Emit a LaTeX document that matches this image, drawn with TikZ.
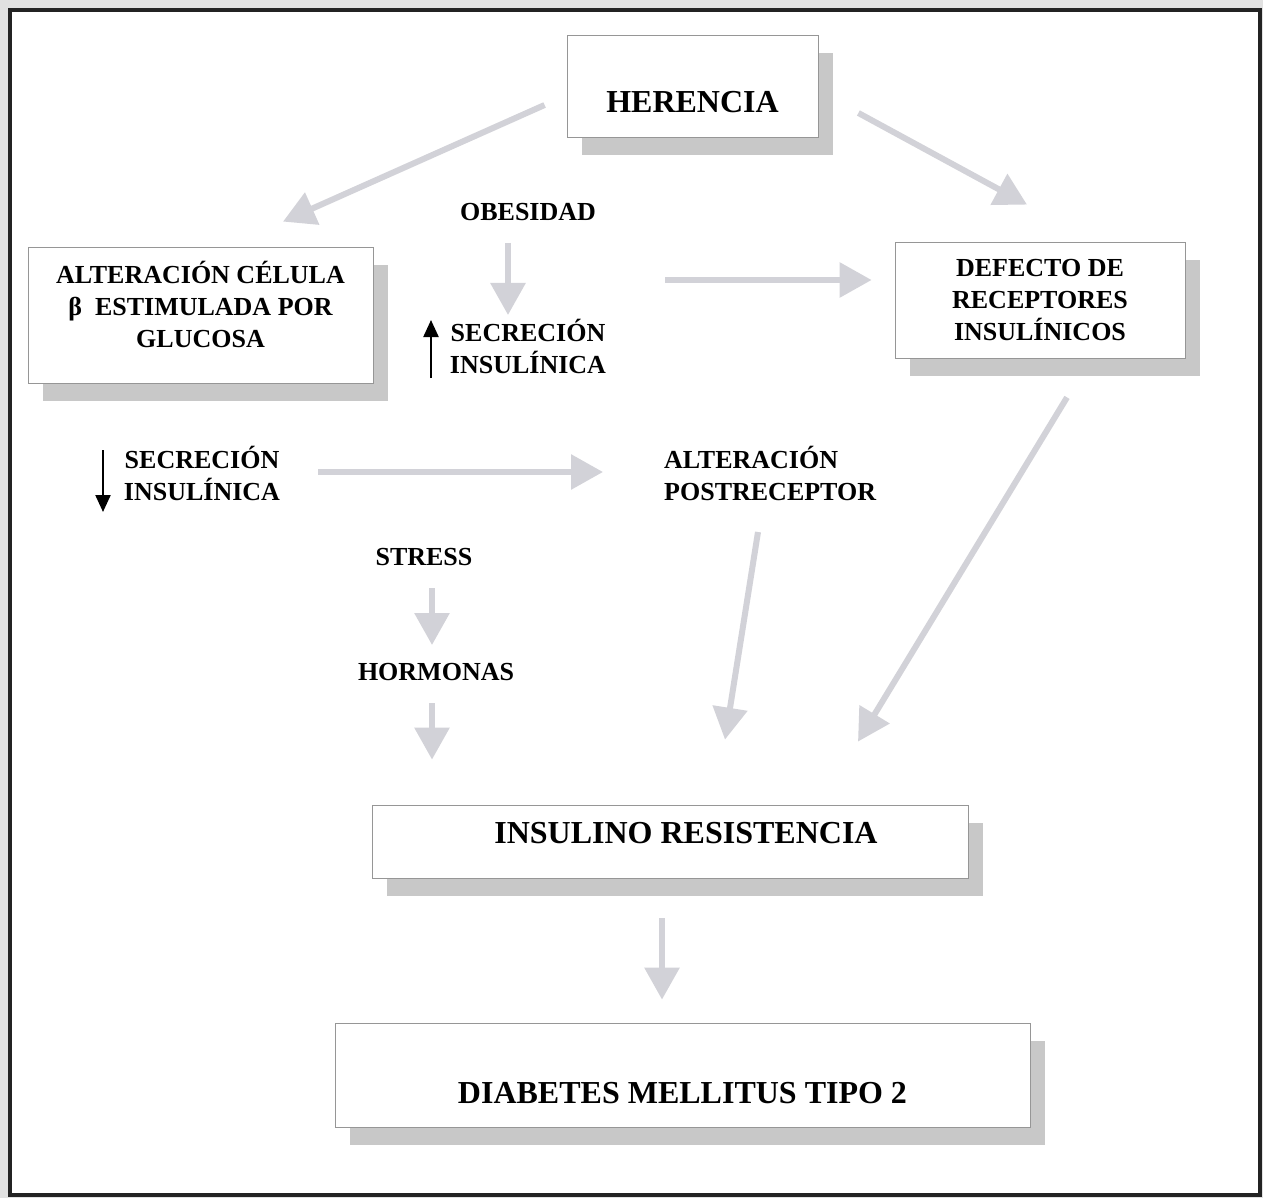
\documentclass[tikz,border=0pt]{standalone}
\usepackage{fontspec}
\setmainfont{Liberation Serif}
\usepackage{xcolor}
\definecolor{boxline}{RGB}{150,150,150}
\definecolor{shadowgray}{RGB}{200,200,200}
\definecolor{arrowgray}{RGB}{210,210,216}
\definecolor{framegray}{RGB}{35,35,35}
\definecolor{margingray}{RGB}{225,225,225}
\usetikzlibrary{arrows.meta, calc, shadows}

\newcommand{\bigtxt}{\fontsize{32}{38}\selectfont\bfseries}
\newcommand{\smalltxt}{\fontsize{26}{32}\selectfont\bfseries}

\tikzset{
  box/.style={draw=boxline, line width=0.8pt, fill=white, align=center, font=\smalltxt,
    drop shadow={shadow xshift=15pt, shadow yshift=-18pt, fill=shadowgray, opacity=1}},
  lbl/.style={inner sep=0pt, align=center, font=\smalltxt},
  grayarr/.style={draw=arrowgray, line width=6pt, -{Triangle[width=34pt, length=32pt]}},
  blackarr/.style={draw=black, line width=2.2pt, -{Triangle[width=15pt, length=17pt]}}
}

\begin{document}
\begin{tikzpicture}[x=1pt, y=-1pt]
  \useasboundingbox (0,0) rectangle (1263,1198);
  % Page and frame
  \fill[margingray] (0,0) rectangle (1263,1198);
  \fill[white] (10,10) rectangle (1260,1195);
  \draw[framegray, line width=4pt] (10,10) rectangle (1260,1195);

  % Boxes
  \node[box, minimum width=251, minimum height=102, font=\bigtxt, text height=53pt, text depth=0pt] (herencia) at (692.5,86) {HERENCIA};
  \node[box, minimum width=345, minimum height=136, text depth=22pt] (alter) at (200.5,315) {ALTERACIÓN CÉLULA\\β\enspace ESTIMULADA POR\\GLUCOSA};
  \node[box, minimum width=290, minimum height=116] (defecto) at (1040,300) {DEFECTO DE\\RECEPTORES\\INSULÍNICOS};
  \node[box, minimum width=596, minimum height=73, font=\bigtxt, text height=21pt, text depth=17pt] (insulino) at (670,841.5) {\hspace*{32pt}INSULINO RESISTENCIA};
  \node[box, minimum width=695, minimum height=104, font=\bigtxt, text height=57pt, text depth=0pt] (diabetes) at (682.5,1075) {DIABETES MELLITUS TIPO 2};

  % Free labels
  \node[lbl] (obesidad) at (528,212) {OBESIDAD};
  \node[lbl] (secup) at (528,346) {SECRECIÓN\\INSULÍNICA};
  \node[lbl] (seclow) at (202,473) {SECRECIÓN\\INSULÍNICA};
  \node[lbl, anchor=west, align=left] (postrec) at (664,473) {ALTERACIÓN\\POSTRECEPTOR};
  \node[lbl] (stress) at (424,557) {STRESS};
  \node[lbl] (hormonas) at (436,672) {HORMONAS};

  % Up / down marks
  \draw[blackarr] ($(secup)+(-97,32)$) -- ($(secup)+(-97,-26)$);
  \draw[blackarr] ($(seclow)+(-99,-23)$) -- ($(seclow)+(-99,39)$);

  % Gray arrows
  \draw[grayarr] ($(herencia.west)+(-22,19)$) -- ($(alter.north)+(82.5,-25)$);
  \draw[grayarr] ($(herencia.east)+(40,27)$) -- ($(defecto.north)+(-13,-37)$);
  \draw[grayarr] ($(obesidad)+(-20,31)$) -- ($(secup)+(-20,-31)$);
  \draw[grayarr] ($(secup)+(137,-66)$) -- ($(defecto.west)+(-23,-20)$);
  \draw[grayarr] ($(seclow)+(116,-1)$) -- ($(postrec.west)+(-61,-1)$);
  \draw[grayarr] ($(postrec.west)+(94,59)$) -- ($(insulino.north)+(55,-65)$);
  \draw[grayarr] ($(defecto.south)+(27,39)$) -- ($(insulino.north)+(188,-63)$);
  \draw[grayarr] ($(stress)+(8,31)$) -- ($(hormonas)+(-4,-27)$);
  \draw[grayarr] ($(hormonas)+(-4,31)$) -- ($(insulino.north)+(-238,-45)$);
  \draw[grayarr] ($(insulino.south)+(-8,40)$) -- ($(diabetes.north)+(-20.5,-23)$);
\end{tikzpicture}
\end{document}
